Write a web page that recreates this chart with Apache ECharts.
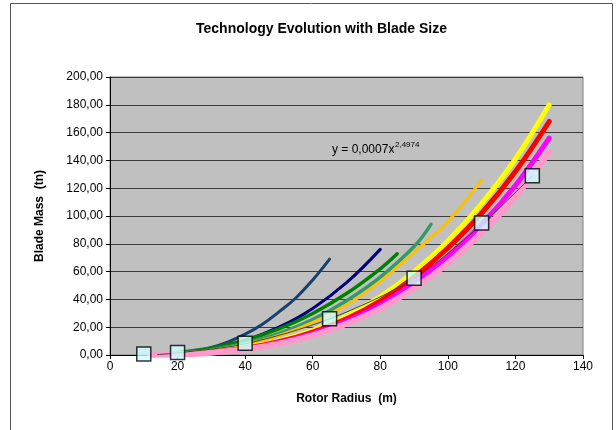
<!DOCTYPE html>
<html>
<head>
<meta charset="utf-8">
<script src="https://cdn.jsdelivr.net/npm/echarts@6/dist/echarts.min.js"></script>
<style>
  html, body { margin: 0; padding: 0; background: #fff; }
  #chart { width: 616px; height: 430px; }
</style>
</head>
<body>
<div id="chart"></div>
<script>
// [radius m, mass tn]
var curveTeal = [[18, 1.0], [25, 3], [30, 5.5], [35, 9.5], [40, 15], [45, 22], [50, 31], [55, 41], [60, 54], [65, 69]];
var curveNavy = [[20, 1.5], [30, 4.6], [40, 10.5], [50, 20], [60, 33.5], [70, 52], [80, 76]];
var curveGreen = [[20, 1.8], [30, 5.1], [40, 10.6], [50, 18.8], [60, 29.9], [70, 44.2], [80, 62], [85, 72.8]];
var curveSeaGreen = [[20, 1.2], [30, 3.8], [40, 8.5], [50, 15.5], [60, 25.5], [70, 39], [80, 56], [90, 78], [95, 94]];
var curveGold = [[20, 1.0], [30, 3.2], [40, 7.5], [50, 14], [60, 23.5], [70, 36], [80, 53], [90, 74], [100, 96], [110, 126]];
var curveYellow = [[20, 0.6], [30, 2.1], [40, 5.2], [50, 10.2], [60, 17.7], [70, 28], [80, 42], [90, 60], [100, 82], [110, 109], [120, 141], [130, 180]];
var curveRed = [[20, 0.6], [30, 2.0], [40, 4.8], [50, 9.5], [60, 16.5], [70, 26], [80, 39], [90, 56], [100, 77], [110, 102], [120, 132], [130, 168]];
var curveMagenta = [[20, 0.5], [30, 1.8], [40, 4.4], [50, 8.8], [60, 15.3], [70, 24.3], [80, 36], [90, 52], [100, 71], [110, 94], [120, 122], [130, 156]];
var curvePink = [[12, 0.2], [20, 0.5], [30, 1.7], [40, 4.1], [50, 8.2], [60, 14.2], [70, 22.5], [80, 33.5], [90, 48], [100, 66], [110, 88], [120, 114], [130, 146]];
var trendLine = [[14, 0.3], [20, 1.5], [40, 8], [65, 26], [90, 55], [110, 94], [125, 129]];
var bladePoints = [[10, 0.8], [20, 1.8], [40, 8.4], [65, 26], [90, 55.3], [110, 95], [125, 129]];

var xTicks = { min: 0, max: 140, interval: 20 };
var yTicks = { min: 0, max: 200, interval: 20 };

var font = "'Liberation Sans', Arial, sans-serif";

function curve(data, color, width) {
  return {
    type: "line",
    data: data,
    smooth: 0.4,
    symbol: "none",
    silent: true,
    z: 2,
    lineStyle: { color: color, width: width, cap: "round" }
  };
}

var chart = echarts.init(document.getElementById("chart"));
chart.setOption({
  animation: false,
  backgroundColor: "#fff",
  title: {
    text: "Technology Evolution with Blade Size",
    left: 191,
    top: 17,
    textStyle: { fontFamily: font, fontSize: 14, fontWeight: "bold", color: "#000" }
  },
  grid: {
    left: 110,
    right: 33,
    top: 77,
    bottom: 75,
    show: true,
    backgroundColor: "#C0C0C0",
    borderColor: "#808080",
    borderWidth: 1
  },
  xAxis: {
    type: "value",
    min: xTicks.min,
    max: xTicks.max,
    interval: xTicks.interval,
    name: "Rotor Radius  (m)",
    nameLocation: "middle",
    nameGap: 38,
    nameTextStyle: { fontFamily: font, fontSize: 12, fontWeight: "bold", color: "#000" },
    axisLine: { lineStyle: { color: "#000", width: 1 } },
    axisTick: { length: 4, lineStyle: { color: "#000" } },
    axisLabel: { fontFamily: font, fontSize: 12, color: "#000", margin: 6 },
    splitLine: { show: false }
  },
  yAxis: {
    type: "value",
    min: yTicks.min,
    max: yTicks.max,
    interval: yTicks.interval,
    name: "Blade Mass  (tn)",
    nameLocation: "middle",
    nameGap: 64,
    nameTextStyle: { fontFamily: font, fontSize: 12, fontWeight: "bold", color: "#000" },
    axisLine: { show: true, lineStyle: { color: "#000", width: 1 } },
    axisTick: { show: true, length: 4, lineStyle: { color: "#000" } },
    axisLabel: {
      fontFamily: font,
      fontSize: 12,
      color: "#000",
      margin: 7,
      formatter: function (v) { return v.toFixed(2).replace(".", ","); }
    },
    splitLine: { lineStyle: { color: "#3a3a3a", width: 1 } }
  },
  series: [
    curve(curveTeal, "#17406D", 3),
    curve(curveNavy, "#000080", 3),
    curve(curveGreen, "#008000", 3.5),
    curve(curveSeaGreen, "#339966", 3.5),
    curve(curveGold, "#FFC000", 3),
    curve(curveYellow, "#FFFF00", 5),
    curve(curveRed, "#FF0000", 5),
    curve(curveMagenta, "#FF00FF", 5),
    curve(curvePink, "#FF99CC", 6),
    {
      type: "line",
      data: trendLine,
      smooth: 0.3,
      symbol: "none",
      silent: true,
      z: 3,
      lineStyle: { color: "#404040", width: 1 }
    },
    {
      type: "scatter",
      data: bladePoints,
      symbol: "rect",
      symbolSize: 14,
      z: 10,
      itemStyle: { color: "#CCFFFF", borderColor: "#000", borderWidth: 1.5 }
    }
  ],
  graphic: [
    {
      type: "rect",
      shape: { x: 10.5, y: 3.5, width: 602, height: 440 },
      style: { fill: "none", stroke: "#555", lineWidth: 1 },
      silent: true
    },
    {
      type: "text",
      left: 332,
      top: 144,
      style: { text: "y = 0,0007x", fontFamily: font, fontSize: 12, fill: "#000" }
    },
    {
      type: "text",
      left: 395,
      top: 141,
      style: { text: "2,4974", fontFamily: font, fontSize: 8, fill: "#000" }
    }
  ]
});
</script>
</body>
</html>
